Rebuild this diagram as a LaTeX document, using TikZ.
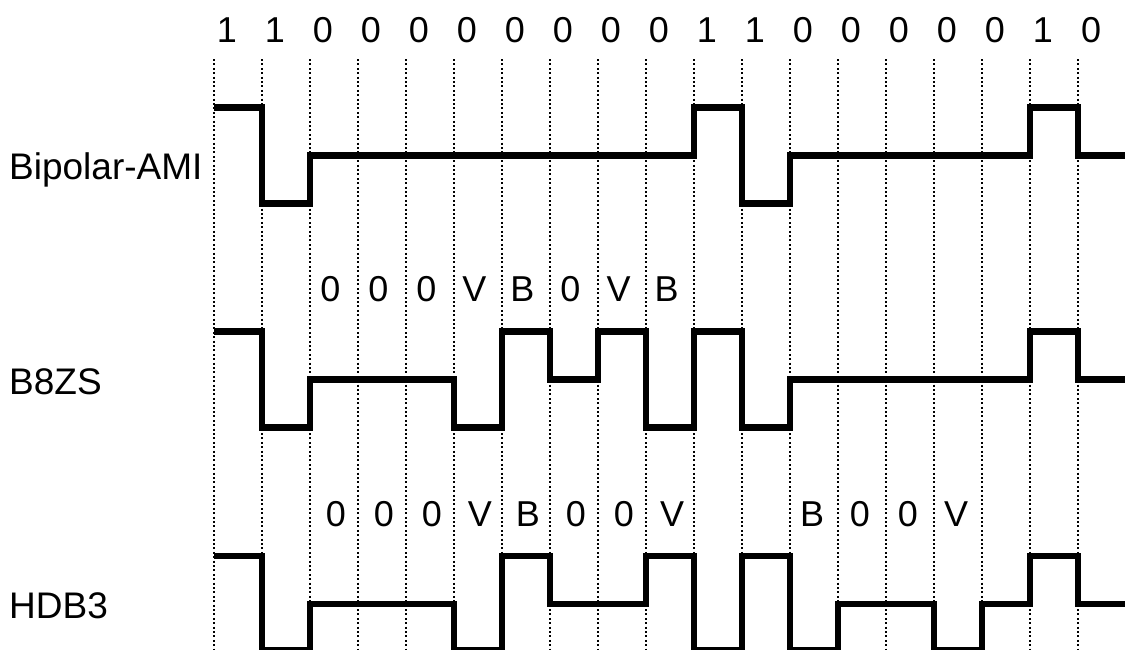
\documentclass[tikz,border=0pt]{standalone}
\usepackage{fontspec}
\setmainfont{Liberation Sans}
\begin{document}
\begin{tikzpicture}[x=1pt,y=-1pt,
  grid/.style={line width=2pt, dash pattern=on 2pt off 2.4pt},
  wave/.style={line width=6.5pt, line join=miter},
  bit/.style={inner sep=0pt, anchor=base, font=\fontsize{36}{42}\selectfont},
  sig/.style={inner sep=0pt, anchor=base west, font=\fontsize{37}{44}\selectfont}]
\useasboundingbox (0,0) rectangle (1125,649);
% dotted bit boundaries
\foreach \k in {0,...,19}
  \draw[grid] ({214+48*\k},59) -- ({214+48*\k},652);
% bit row
\foreach \b [count=\i from 0] in {1,1,0,0,0,0,0,0,0,0,1,1,0,0,0,0,0,1,0}
  \node[bit] (d\i) at ({227+48*\i},42.7) {\b};
% signal names
\node[sig] (ami) at (9,179.3) {Bipolar-AMI};
\node[sig] (b8zs) at (9,394) {B8ZS};
\node[sig] (hdb3) at (9,618.3) {HDB3};
% B8ZS substitution marks
\foreach \t [count=\i from 2] in {0,0,0,V,B,0,V,B}
  \node[bit] (bm\i) at ({238+48*\i-3.5},301.5) {\t};
% HDB3 substitution marks
\foreach \t [count=\i from 2] in {0,0,0,V,B,0,0,V}
  \node[bit] (hm\i) at ({238+48*\i+2},526.5) {\t};
\foreach \t [count=\i from 12] in {B,0,0,V}
  \node[bit] (hm\i) at ({238+48*\i-2},526.5) {\t};
% Bipolar-AMI waveform (H=107.5, Z=155.5, L=203.5)
\draw[wave] (214,107.5) -- (262,107.5) -- (262,203.5) -- (310,203.5) -- (310,155.5)
  -- (694,155.5) -- (694,107.5) -- (742,107.5) -- (742,203.5) -- (790,203.5)
  -- (790,155.5) -- (1030,155.5) -- (1030,107.5) -- (1078,107.5) -- (1078,155.5)
  -- (1127,155.5);
% B8ZS waveform (H=331.5, Z=379.5, L=427.5)
\draw[wave] (214,331.5) -- (262,331.5) -- (262,427.5) -- (310,427.5) -- (310,379.5)
  -- (454,379.5) -- (454,427.5) -- (502,427.5) -- (502,331.5) -- (550,331.5)
  -- (550,379.5) -- (598,379.5) -- (598,331.5) -- (646,331.5) -- (646,427.5)
  -- (694,427.5) -- (694,331.5) -- (742,331.5) -- (742,427.5) -- (790,427.5)
  -- (790,379.5) -- (1030,379.5) -- (1030,331.5) -- (1078,331.5) -- (1078,379.5)
  -- (1127,379.5);
% HDB3 waveform (H=556, Z=604, L=650)
\draw[wave] (214,556) -- (262,556) -- (262,650) -- (310,650) -- (310,604)
  -- (454,604) -- (454,650) -- (502,650) -- (502,556) -- (550,556)
  -- (550,604) -- (646,604) -- (646,556) -- (694,556) -- (694,650)
  -- (742,650) -- (742,556) -- (790,556) -- (790,650) -- (838,650)
  -- (838,604) -- (934,604) -- (934,650) -- (982,650) -- (982,604)
  -- (1030,604) -- (1030,556) -- (1078,556) -- (1078,604) -- (1127,604);
\end{tikzpicture}
\end{document}
